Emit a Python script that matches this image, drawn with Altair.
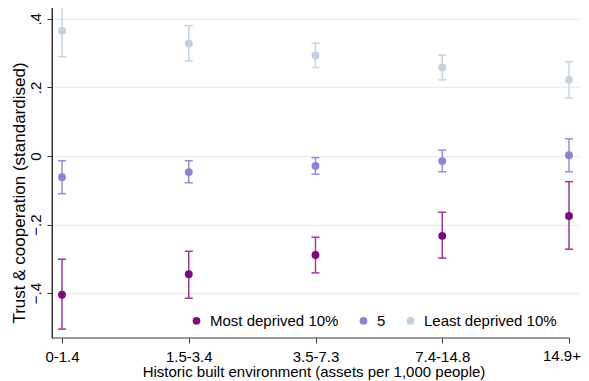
import altair as alt
import pandas as pd

cats = ["0-1.4", "1.5-3.4", "3.5-7.3", "7.4-14.8", "14.9+"]
series = ["Most deprived 10%", "5", "Least deprived 10%"]
bar_keys = ["bar_most", "bar_mid", "bar_least"]

most_est = [-0.405, -0.345, -0.289, -0.233, -0.175]
most_lo = [-0.505, -0.415, -0.341, -0.298, -0.272]
most_hi = [-0.301, -0.278, -0.237, -0.164, -0.075]

mid_est = [-0.062, -0.047, -0.029, -0.015, 0.002]
mid_lo = [-0.110, -0.078, -0.053, -0.046, -0.046]
mid_hi = [-0.014, -0.014, -0.005, 0.017, 0.050]

least_est = [0.365, 0.328, 0.293, 0.258, 0.222]
least_lo = [0.290, 0.277, 0.258, 0.222, 0.169]
least_hi = [0.439, 0.380, 0.329, 0.294, 0.275]

y_ticks = [-0.4, -0.2, 0, 0.2, 0.4]
x_title = "Historic built environment (assets per 1,000 people)"
y_title = "Trust & cooperation (standardised)"

point_colors = ["#7d0a7d", "#8a84d2", "#c3d1de"]
bar_colors = ["#9a3a9a", "#958fd6", "#c6d4e0"]

rows = []
for s, g, ests, los, his in zip(series, bar_keys, [most_est, mid_est, least_est],
                                [most_lo, mid_lo, least_lo], [most_hi, mid_hi, least_hi]):
    for c, e, l, h in zip(cats, ests, los, his):
        rows.append({"cat": c, "series": s, "grp": g, "est": e, "lo": l, "hi": h})
df = pd.DataFrame(rows)
last_df = pd.DataFrame({"cat": cats[-1:]})

W, H = 527, 338
FONT = "Liberation Sans"

xsc = alt.Scale(type="point", domain=cats, padding=0.079)
ysc = alt.Scale(domain=[-0.531, 0.455], nice=False, zero=False)

x_enc = alt.X(
    "cat:N", scale=xsc, sort=cats,
    axis=alt.Axis(title=None, labelAngle=0, domain=False, tickSize=5,
                  labelPadding=6, grid=False,
                  labelExpr="datum.label == '14.9+' ? '' : datum.label"),
)
y_axis = alt.Axis(
    values=y_ticks,
    labelExpr="datum.value == 0 ? '0' : replace(format(datum.value, '.1f'), '0.', '.')",
    labelAngle=270, labelAlign="center", labelBaseline="bottom", labelPadding=4,
    tickSize=5, grid=True, gridColor="#e6eef1", gridWidth=1.3, title=None,
    domain=True,
)

stroke_sc = alt.Scale(domain=bar_keys, range=bar_colors)
color_sc = alt.Scale(domain=series, range=point_colors)

base = alt.Chart(df)

rules = base.mark_rule(strokeWidth=1.5).encode(
    x=x_enc,
    y=alt.Y("lo:Q", scale=ysc, axis=y_axis),
    y2="hi:Q",
    stroke=alt.Stroke("grp:N", scale=stroke_sc, legend=None),
)
caps_lo = base.mark_rule(strokeWidth=1.5, xOffset=-4, x2Offset=4).encode(
    x=x_enc,
    x2=alt.X2("cat"),
    y=alt.Y("lo:Q", scale=ysc, axis=y_axis),
    stroke=alt.Stroke("grp:N", scale=stroke_sc, legend=None),
)
caps_hi = base.mark_rule(strokeWidth=1.5, xOffset=-4, x2Offset=4).encode(
    x=x_enc,
    x2=alt.X2("cat"),
    y=alt.Y("hi:Q", scale=ysc, axis=y_axis),
    stroke=alt.Stroke("grp:N", scale=stroke_sc, legend=None),
)
points = base.mark_point(filled=True, size=62, opacity=1).encode(
    x=x_enc,
    y=alt.Y("est:Q", scale=ysc, axis=y_axis),
    color=alt.Color(
        "series:N", scale=color_sc, sort=series,
        legend=alt.Legend(title=None, orient="none", legendX=137, legendY=313,
                          direction="horizontal", symbolType="circle", symbolSize=60,
                          symbolStrokeWidth=0, labelFontSize=15, labelFont=FONT,
                          labelColor="#000000", labelOffset=6, columnPadding=17,
                          padding=0),
    ),
)
one = pd.DataFrame({"a": [0]})
xline = alt.Chart(one).mark_rule(color="#333333", strokeWidth=1).encode(
    x=alt.value(0), x2=alt.value(518), y=alt.value(H)
)
yline = alt.Chart(one).mark_rule(color="#333333", strokeWidth=1).encode(
    x=alt.value(0), y=alt.value(0), y2=alt.value(H)
)
last_label = alt.Chart(last_df).mark_text(
    font=FONT, fontSize=15, color="#000000", align="right", baseline="top", dx=12
).encode(x=x_enc, y=alt.value(H + 11), text="cat:N")
xtitle = alt.Chart(one).mark_text(
    font=FONT, fontSize=15, color="#000000", align="center", baseline="alphabetic"
).encode(x=alt.value(262), y=alt.value(377), text=alt.value(x_title))
ytitle = alt.Chart(one).mark_text(
    font=FONT, fontSize=17, color="#000000", align="center", baseline="middle", angle=270
).encode(x=alt.value(-32), y=alt.value(193), text=alt.value(y_title))

chart = alt.layer(rules, caps_lo, caps_hi, points, xline, yline, last_label, xtitle, ytitle).properties(
    width=W, height=H, autosize="none",
    padding={"left": 44, "top": -8, "right": 2, "bottom": 45},
    background="#ffffff",
).configure_view(stroke=None).configure_axis(
    labelFont=FONT, titleFont=FONT, labelFontSize=15, titleFontSize=15,
    labelColor="#000000", titleColor="#000000", titleFontWeight="normal",
    tickColor="#333333", domainColor="#333333", domainWidth=1, tickWidth=1,
)

chart.save("out.html", embed_options={"renderer": "svg", "actions": False})
